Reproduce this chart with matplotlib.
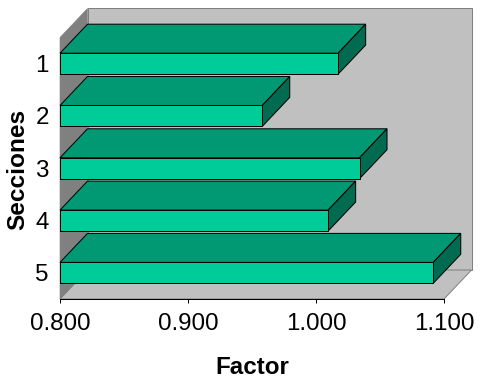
import matplotlib
matplotlib.use("Agg")
import matplotlib.pyplot as plt
from matplotlib.patches import Polygon
from matplotlib.ticker import FormatStrFormatter

categories = [1, 2, 3, 4, 5]
values = [1.0173, 0.958, 1.034, 1.0095, 1.0916]
x_ticks = [0.8, 0.9, 1.0, 1.1]

W, H = 482, 380
L, R, T, B = 60.0, 444.0, 37.5, 299.0
DX, DY = 27.5, 29.0          # depth of the 3D effect, in pixels
BAR_H = 0.40

FRONT, TOP, SIDE = "#00CC99", "#009973", "#006B50"
WALL, SHADE, EDGE = "#C0C0C0", "#808080", "#000000"

plt.rcParams["font.family"] = ["Liberation Sans", "DejaVu Sans"]
fig = plt.figure(figsize=(W / 100, H / 100), dpi=100)
ax = fig.add_axes([L / W, 1 - B / H, (R - L) / W, (B - T) / H])
ax.set_xlim(0.8, 1.1)
ax.set_ylim(5.5, 0.5)
ax.patch.set_visible(False)

ddx = DX * 0.3 / (R - L)
ddy = DY * 5.0 / (B - T)


def poly(points, face, edge, z, lw=0.72):
    ax.add_patch(Polygon(points, closed=True, facecolor=face, edgecolor=edge, linewidth=lw,
                         zorder=z, clip_on=False))


x0, x1 = ax.get_xlim()
y1, y0 = ax.get_ylim()   # y0 top category edge, y1 bottom edge
# back wall
poly([(x0 + ddx, y0 - ddy), (x1 + ddx, y0 - ddy), (x1 + ddx, y1 - ddy), (x0 + ddx, y1 - ddy)], WALL, SHADE, 1)
# floor
poly([(x0, y1), (x1, y1), (x1 + ddx, y1 - ddy), (x0 + ddx, y1 - ddy)], WALL, SHADE, 1.1)
# left wall
poly([(x0, y1), (x0, y0), (x0 + ddx, y0 - ddy), (x0 + ddx, y1 - ddy)], SHADE, SHADE, 1.2, 0.4)

# bars, back to front
for i, (c, v) in enumerate(zip(categories, values)):
    z = 2 + i
    t, b = c - BAR_H / 2, c + BAR_H / 2
    poly([(x0, t), (v, t), (v + ddx, t - ddy), (x0 + ddx, t - ddy)], TOP, EDGE, z)
    poly([(v, t), (v + ddx, t - ddy), (v + ddx, b - ddy), (v, b)], SIDE, EDGE, z)
    ax.barh(c, v - x0, left=x0, height=BAR_H, color=FRONT, edgecolor=EDGE, linewidth=0.72, zorder=z + 0.5)

for s in ["top", "right", "left"]:
    ax.spines[s].set_visible(False)
ax.spines["bottom"].set_linewidth(0.72)
ax.spines["bottom"].set_zorder(20)

ax.set_xticks(x_ticks)
ax.xaxis.set_major_formatter(FormatStrFormatter("%.3f"))
ax.set_yticks(categories)
ax.set_yticklabels([str(c) for c in categories])
ax.tick_params(axis="x", length=3.2, width=0.72, labelsize=17.4, pad=7.2)
ax.tick_params(axis="y", length=0, labelsize=17.4, pad=8)

ax.set_xlabel("Factor", fontsize=17.4, fontweight="bold", labelpad=14.5)
fig.text(17.5 / W, 1 - 169 / H, "Secciones", rotation=90, fontsize=17.6, fontweight="bold",
         ha="center", va="center")

fig.savefig("out.png", dpi=100)
